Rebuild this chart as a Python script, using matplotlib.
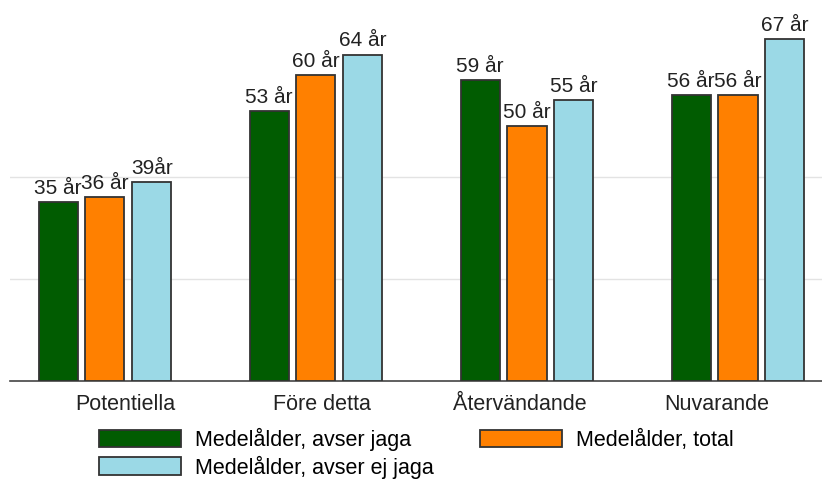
import matplotlib
matplotlib.use("Agg")
import matplotlib.pyplot as plt
import numpy as np

plt.rcParams['font.family'] = ['Liberation Sans', 'DejaVu Sans']

categories = ["Potentiella", "Före detta", "Återvändande", "Nuvarande"]
series_names = ["Medelålder, avser jaga", "Medelålder, total", "Medelålder, avser ej jaga"]
jaga = [35, 53, 59, 56]
total = [36, 60, 50, 56]
ej_jaga = [39, 64, 55, 67]
labels_jaga = ["35 år", "53 år", "59 år", "56 år"]
labels_total = ["36 år", "60 år", "50 år", "56 år"]
labels_ej = ["39år", "64 år", "55 år", "67 år"]
colors = ["#015c01", "#ff8000", "#9bd9e6"]
gridlines = [20, 40]

W, H = 822, 479
fig = plt.figure(figsize=(W/100, H/100), dpi=100)
ax = fig.add_axes([10/W, 1-381/H, 1-10/W, (381-24)/H])

x = np.arange(len(categories))
pitch = 0.222
width = 0.185
handles = []
for i, (vals, labs, c, name) in enumerate(zip([jaga, total, ej_jaga],
                                             [labels_jaga, labels_total, labels_ej],
                                             colors, series_names)):
    xs = x + (i-1)*pitch
    b = ax.bar(xs, vals, width, color=c, edgecolor="#333333", linewidth=1.3,
               label=name, zorder=3)
    handles.append(b)
    for xx, v, l in zip(xs, vals, labs):
        ax.annotate(l, (xx, v), xytext=(0, 3), textcoords="offset points",
                    ha="center", va="bottom", fontsize=15, color="#222222")

for g in gridlines:
    ax.axhline(g, color="#e3e3e3", linewidth=1, zorder=1)

ax.set_xlim(-0.45, (W-105)/211)
ax.set_ylim(0, 70)
ax.set_yticks([])
ax.set_xticks(x*0.935 + 0.095)
ax.set_xticklabels(categories, fontsize=15.5, color="#222222")
ax.tick_params(axis='x', length=0, pad=9.5)
for s in ["top", "right", "left"]:
    ax.spines[s].set_visible(False)
ax.spines["bottom"].set_color("#444444")
ax.spines["bottom"].set_linewidth(1.2)

fig.legend([handles[0], handles[2], handles[1]],
           [series_names[0], series_names[2], series_names[1]],
           ncol=2, loc="upper left", bbox_to_anchor=(99/W, 1-428/H),
           frameon=False, fontsize=15.5, handlelength=3.8, handleheight=0.88,
           handletextpad=0.65, columnspacing=2.15, labelspacing=0.2,
           borderpad=0, borderaxespad=0)

fig.savefig("out.png", dpi=100)
